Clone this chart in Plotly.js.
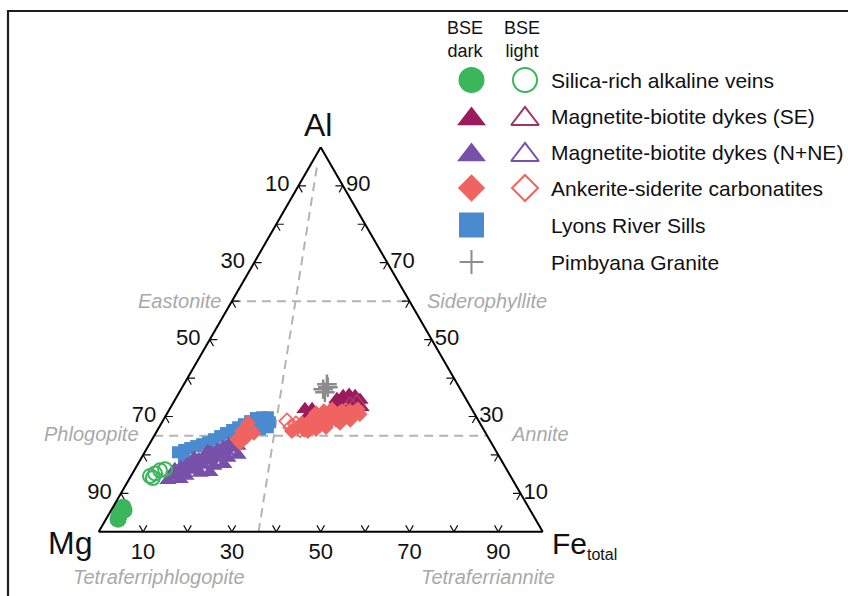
<!DOCTYPE html>
<html>
<head>
<meta charset="utf-8">
<script src="https://cdn.plot.ly/plotly-3.0.1.min.js"></script>
<style>
  html, body { margin: 0; padding: 0; background: #ffffff; }
  #chart { width: 848px; height: 596px; }
</style>
</head>
<body>
<div id="chart"></div>
<script>
// Mica compositions as atomic proportions Al : Mg : Fe(total), normalised to 100.

// Silica-rich alkaline veins
const silicaDarkAl = [6.4, 5.4, 4.1, 3.3, 5.6];
const silicaDarkMg = [91.3, 92.3, 93.4, 94.0, 91.5];
const silicaDarkFe = [2.3, 2.3, 2.5, 2.7, 2.9];
const silicaLightAl = [14.5, 15.2, 16.0, 16.3, 14.0];
const silicaLightMg = [81.2, 79.7, 78.2, 76.9, 80.8];
const silicaLightFe = [4.3, 5.1, 5.8, 6.8, 5.2];

// Magnetite-biotite dykes (SE)
const dykeSEDarkAl = [31.9, 31.9, 30.4, 34.5, 35.3, 35.6, 35.3, 34.3, 33.7, 33.5, 33.0, 32.4];
const dykeSEDarkMg = [37.6, 36.0, 37.6, 29.1, 27.3, 25.8, 24.6, 24.0, 27.7, 26.0, 30.5, 24.7];
const dykeSEDarkFe = [30.5, 32.1, 32.0, 36.4, 37.4, 38.6, 40.1, 41.7, 38.6, 40.5, 36.5, 42.9];
const dykeSELightAl = [33.7, 33.2];
const dykeSELightMg = [25.0, 26.8];
const dykeSELightFe = [41.3, 40.0];

// Magnetite-biotite dykes (N+NE)
const dykeNDarkAl = [14.5, 16.3, 15.0, 16.8, 15.5, 17.6, 16.1, 18.1, 16.8, 18.9, 17.6, 19.7, 18.4, 20.5, 19.2, 21.3,
                     20.0, 22.0, 21.0, 22.8, 21.8, 23.6, 22.3, 14.5, 15.3, 17.1, 19.2, 13.7, 19.2, 21.0, 24.1,
                     13.4, 15.5, 17.6, 20.0];
const dykeNDarkMg = [76.2, 74.7, 74.6, 73.1, 73.1, 71.3, 71.4, 69.7, 69.7, 68.0, 67.9, 66.2, 66.2, 64.4, 64.4, 62.7,
                     62.7, 61.0, 60.8, 59.3, 59.1, 57.5, 57.5, 73.1, 69.5, 65.5, 61.3, 74.8, 68.9, 64.9, 56.1,
                     77.7, 67.2, 63.0, 58.6];
const dykeNDarkFe = [9.3, 9.0, 10.4, 10.1, 11.4, 11.1, 12.5, 12.2, 13.5, 13.1, 14.5, 14.1, 15.4, 15.1, 16.4, 16.0,
                     17.3, 17.0, 18.2, 17.9, 19.1, 18.9, 20.2, 12.4, 15.2, 17.4, 19.5, 11.5, 11.9, 14.1, 19.8,
                     8.9, 17.3, 19.4, 21.4];
const dykeNLightAl = [17.5, 19.0, 20.2];
const dykeNLightMg = [68.6, 65.5, 62.0];
const dykeNLightFe = [13.9, 15.5, 17.8];

// Ankerite-siderite carbonatites
const carbDarkAl = [28.3, 24.1, 24.9, 26.2, 25.7, 23.1,
                    27.2, 28.3, 27.5, 29.1, 28.0, 29.6, 28.5, 30.1, 29.1, 30.9, 29.8, 31.4, 30.4, 31.4, 31.1, 31.9,
                    26.5, 27.0, 27.8, 28.3, 29.1, 29.6, 30.4, 30.9, 31.4, 31.1, 31.9, 26.2,
                    26.7, 27.2, 28.3, 29.1, 30.6, 26.2];
const carbDarkMg = [52.2, 56.8, 54.1, 54.6, 52.2, 56.6,
                    41.5, 40.1, 39.6, 37.8, 37.5, 35.8, 35.5, 33.8, 33.3, 31.5, 31.2, 29.5, 29.1, 27.7, 27.0, 25.7,
                    40.5, 38.5, 36.2, 34.2, 32.0, 30.0, 27.7, 35.6, 33.6, 30.1, 31.5, 39.8,
                    37.7, 35.2, 31.5, 28.8, 25.9, 43.4];
const carbDarkFe = [19.5, 19.1, 21.0, 19.2, 22.1, 20.3,
                    31.3, 31.6, 32.9, 33.1, 34.5, 34.6, 36.0, 36.1, 37.6, 37.6, 39.0, 39.1, 40.5, 40.9, 41.9, 42.4,
                    33.0, 34.5, 36.0, 37.5, 38.9, 40.4, 41.9, 33.5, 35.0, 38.8, 36.6, 34.0,
                    35.6, 37.6, 40.2, 42.1, 43.5, 30.4];
const carbLightAl = [28.8, 27.2, 28.0, 26.7, 31.4];
const carbLightMg = [43.2, 43.1, 41.6, 41.3, 28.6];
const carbLightFe = [28.0, 29.7, 30.4, 32.0, 40.0];

// Lyons River Sills
const sillsAl = [20.7, 21.3, 21.8, 22.3, 22.8, 23.3, 24.1, 24.9, 25.7, 26.5, 27.2, 28.0, 28.8, 29.6, 29.8, 29.8,
                 27.2, 26.7, 28.3, 26.7, 19.4, 28.5];
const sillsMg = [71.8, 70.1, 68.5, 66.9, 65.3, 63.7, 62.0, 60.2, 58.5, 56.7, 55.0, 53.3, 51.5, 49.8, 48.3, 47.0,
                 48.3, 50.3, 49.1, 52.1, 71.1, 47.2];
const sillsFe = [7.5, 8.6, 9.7, 10.8, 11.9, 13.0, 13.9, 14.9, 15.8, 16.8, 17.8, 18.7, 19.7, 20.6, 21.9, 23.2,
                 24.5, 23.0, 22.6, 21.2, 9.5, 24.3];

// Pimbyana Granite
const graniteAl = [37.1, 37.6, 36.3, 38.4];
const graniteMg = [30.9, 29.6, 30.9, 29.4];
const graniteFe = [32.0, 32.8, 32.8, 32.2];

// End-member reference lines
const eastoniteAl = [60, 60], eastoniteMg = [40, 0], eastoniteFe = [0, 40];
const phlogopiteAl = [25, 25], phlogopiteMg = [75, 0], phlogopiteFe = [0, 75];
const tetraferriAl = [0, 96], tetraferriMg = [64, 2.7], tetraferriFe = [36, 1.3];

// Edge tick values and the percentages printed beside them
const tickValues = [10, 20, 30, 40, 50, 60, 70, 80, 90];
const tickText = ['90', '', '70', '', '50', '', '30', '', '10'];

// Legend
const seriesNames = ['Silica-rich alkaline veins', 'Magnetite-biotite dykes (SE)', 'Magnetite-biotite dykes (N+NE)',
                     'Ankerite-siderite carbonatites', 'Lyons River Sills', 'Pimbyana Granite'];
const endMemberNames = ['Eastonite', 'Siderophyllite', 'Phlogopite', 'Annite', 'Tetraferriphlogopite', 'Tetraferriannite'];

const FONT = 'Liberation Sans, Arial, Helvetica, sans-serif';
const GREEN = '#3cb65b', PLUM = '#9a1c5c', VIOLET = '#7751a9', SALMON = '#ef6461', BLUE = '#4a8bd0', GREY = '#8c8c8c';
const REFGREY = '#b4b4b4', LABELGREY = '#a9a9a9';

function tern(a, b, c, marker) {
  return {
    type: 'scatterternary', mode: 'markers', a: a, b: b, c: c,
    marker: marker, hoverinfo: 'skip', showlegend: false, cliponaxis: false
  };
}
function refLine(a, b, c) {
  return {
    type: 'scatterternary', mode: 'lines', a: a, b: b, c: c, hoverinfo: 'skip', showlegend: false,
    line: { color: REFGREY, width: 2, dash: '9px,6px' }
  };
}

// Chevron ticks: at every tick on each edge, short stubs of the two grid lines
// that leave the edge into the triangle.
function chevronTicks(stub) {
  const a = [], b = [], c = [];
  function seg(p, q, r) { a.push(p[0], q[0], r[0], null); b.push(p[1], q[1], r[1], null); c.push(p[2], q[2], r[2], null); }
  tickValues.forEach(function (v) {
    const w = 100 - v;
    // left edge (Fe = 0)
    seg([v, w - stub, stub], [v, w, 0], [v - stub, w, stub]);
    // bottom edge (Al = 0)
    seg([stub, w - stub, v], [0, w, v], [stub, w, v - stub]);
    // right edge (Mg = 0)
    seg([v, stub, w - stub], [v, 0, w], [v - stub, stub, w]);
  });
  return {
    type: 'scatterternary', mode: 'lines', a: a, b: b, c: c, hoverinfo: 'skip', showlegend: false,
    connectgaps: false, line: { color: '#111', width: 1.2 }
  };
}

const traces = [
  refLine(eastoniteAl, eastoniteMg, eastoniteFe),
  refLine(phlogopiteAl, phlogopiteMg, phlogopiteFe),
  refLine(tetraferriAl, tetraferriMg, tetraferriFe),
  chevronTicks(1.7),
  tern(sillsAl, sillsMg, sillsFe, { symbol: 'square', size: 12, color: BLUE, line: { width: 0 } }),
  tern(dykeNLightAl, dykeNLightMg, dykeNLightFe, { symbol: 'triangle-up-open', size: 14, color: VIOLET, line: { width: 1.5 } }),
  tern(dykeNDarkAl, dykeNDarkMg, dykeNDarkFe, { symbol: 'triangle-up', size: 15, color: VIOLET, line: { width: 0 } }),
  tern(dykeSEDarkAl, dykeSEDarkMg, dykeSEDarkFe, { symbol: 'triangle-up', size: 15, color: PLUM, line: { width: 0 } }),
  tern(dykeSELightAl, dykeSELightMg, dykeSELightFe, { symbol: 'triangle-up-open', size: 15, color: '#a8406f', line: { width: 1.2 } }),
  tern(carbDarkAl, carbDarkMg, carbDarkFe, { symbol: 'diamond', size: 12, color: SALMON, line: { width: 0 } }),
  tern(carbLightAl, carbLightMg, carbLightFe, { symbol: 'diamond-open', size: 12, color: SALMON, line: { width: 1.6 } }),
  tern(silicaDarkAl, silicaDarkMg, silicaDarkFe, { symbol: 'circle', size: 17, color: GREEN, line: { width: 0 } }),
  tern(silicaLightAl, silicaLightMg, silicaLightFe, { symbol: 'circle-open', size: 14, color: GREEN, line: { width: 2 } }),
  tern(graniteAl, graniteMg, graniteFe, { symbol: 'cross-thin-open', size: 14, color: GREY, line: { width: 2.5, color: GREY } })
];

// Legend glyphs live on a hidden cartesian layer laid out in page pixels.
const LEG = { darkX: 471.5, lightX: 525, textX: 549, rowY: [80, 116, 152, 188, 225, 262], triDrop: 3 };
const darkGlyphs = [
  { symbol: 'circle', size: 26, color: GREEN },
  { symbol: 'triangle-up', size: 25, color: PLUM },
  { symbol: 'triangle-up', size: 25, color: VIOLET },
  { symbol: 'diamond', size: 21, color: SALMON },
  { symbol: 'square', size: 25, color: BLUE },
  { symbol: 'cross-thin-open', size: 17, color: GREY, line: { width: 2, color: GREY } }
];
const lightGlyphs = [
  { symbol: 'circle-open', size: 24, color: GREEN, line: { width: 2 } },
  { symbol: 'triangle-up-open', size: 24, color: '#9e3466', line: { width: 2 } },
  { symbol: 'triangle-up-open', size: 24, color: VIOLET, line: { width: 2 } },
  { symbol: 'diamond-open', size: 20, color: SALMON, line: { width: 2 } },
  null,
  null
];
function glyphY(i, g) { return LEG.rowY[i] + (g.symbol.indexOf('triangle') === 0 ? LEG.triDrop : 0); }
darkGlyphs.forEach(function (g, i) {
  traces.push({ type: 'scatter', mode: 'markers', x: [LEG.darkX], y: [glyphY(i, g)], xaxis: 'x', yaxis: 'y',
    marker: Object.assign({ line: { width: 0 } }, g), hoverinfo: 'skip', showlegend: false, cliponaxis: false });
});
lightGlyphs.forEach(function (g, i) {
  if (!g) return;
  traces.push({ type: 'scatter', mode: 'markers', x: [LEG.lightX], y: [glyphY(i, g)], xaxis: 'x', yaxis: 'y',
    marker: g, hoverinfo: 'skip', showlegend: false, cliponaxis: false });
});

const annotations = [];
function note(text, x, y, size, opts) {
  annotations.push(Object.assign({
    text: text, x: x, y: y, xref: 'x', yref: 'y', showarrow: false,
    xanchor: 'center', yanchor: 'middle', font: { family: FONT, size: size, color: '#111' }
  }, opts || {}));
}
// legend headers and entries
note('BSE<br>dark', 465.5, 39, 18);
note('BSE<br>light', 521.5, 39, 18);
seriesNames.forEach(function (s, i) { note(s, LEG.textX, LEG.rowY[i], 21, { xanchor: 'left' }); });

// vertex labels
note('Al', 318, 125, 32);
note('Mg', 70, 543, 32);
note('Fe<sub><span style="font-size:16px">total</span></sub>', 550, 545, 30, { xanchor: 'left' });

// end-member names
const italicGrey = { family: FONT, size: 20, color: LABELGREY, style: 'italic' };
note(endMemberNames[0], 223, 301, 20, { xanchor: 'right', font: italicGrey });
note(endMemberNames[1], 425, 301, 20, { xanchor: 'left', font: italicGrey });
note(endMemberNames[2], 141, 434, 20, { xanchor: 'right', font: italicGrey });
note(endMemberNames[3], 509, 434, 20, { xanchor: 'left', font: italicGrey });
note(endMemberNames[4], 159, 577, 20, { font: italicGrey });
note(endMemberNames[5], 488, 577, 20, { font: italicGrey });

function edgeAxis(labels) {
  return {
    tickmode: 'array', tickvals: tickValues, ticktext: labels,
    ticks: '', showgrid: false, showline: true, linecolor: '#000', linewidth: 2,
    tickfont: { family: FONT, size: 22, color: '#111' },
    title: { text: '' }
  };
}
// labels on the left edge sit a little further from the line
const leftText = tickText.map(function (t) { return t ? t + '\u00a0' : t; });

const layout = {
  width: 848, height: 596,
  margin: { l: 0, r: 0, t: 0, b: 0, pad: 0 },
  paper_bgcolor: '#ffffff', plot_bgcolor: 'rgba(0,0,0,0)',
  showlegend: false, hovermode: false,
  font: { family: FONT, color: '#111' },
  ternary: {
    domain: { x: [0.1164, 0.6400], y: [0.1076, 0.7528] },
    sum: 100,
    bgcolor: 'rgba(0,0,0,0)',
    aaxis: edgeAxis(leftText),
    baxis: edgeAxis(tickText),
    caxis: edgeAxis(tickText)
  },
  xaxis: { domain: [0, 1], range: [0, 848], visible: false, fixedrange: true },
  yaxis: { domain: [0, 1], range: [596, 0], visible: false, fixedrange: true },
  shapes: [
    { type: 'rect', xref: 'x', yref: 'y', x0: 8, x1: 870, y0: 11, y1: 620,
      line: { color: '#1e1e1e', width: 2.2 }, fillcolor: 'rgba(0,0,0,0)' }
  ],
  annotations: annotations
};

Plotly.newPlot('chart', traces, layout, { staticPlot: true, displayModeBar: false });
</script>
</body>
</html>
